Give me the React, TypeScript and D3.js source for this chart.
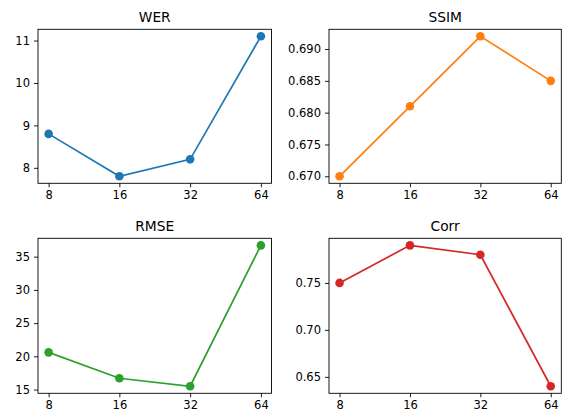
import React, { useEffect, useRef } from 'react';
import * as d3 from 'd3';

const categories = ['8', '16', '32', '64'];

const werValues = [8.8, 7.8, 8.2, 11.1];
const ssimValues = [0.67, 0.681, 0.692, 0.685];
const rmseValues = [20.6, 16.7, 15.5, 36.7];
const corrValues = [0.75, 0.79, 0.78, 0.64];

const werTicks = [8, 9, 10, 11];
const ssimTicks = [0.67, 0.675, 0.68, 0.685, 0.69];
const rmseTicks = [15, 20, 25, 30, 35];
const corrTicks = [0.65, 0.7, 0.75];

const panels = [
  { title: 'WER', values: werValues, ticks: werTicks, fmt: d3.format('d'), color: '#1f77b4', x0: 38, x1: 271.5, y0: 29.3, y1: 183.3 },
  { title: 'SSIM', values: ssimValues, ticks: ssimTicks, fmt: d3.format('.3f'), color: '#ff7f0e', x0: 329, x1: 561.3, y0: 29.3, y1: 183.3 },
  { title: 'RMSE', values: rmseValues, ticks: rmseTicks, fmt: d3.format('d'), color: '#2ca02c', x0: 38, x1: 271.5, y0: 238.3, y1: 393.3 },
  { title: 'Corr', values: corrValues, ticks: corrTicks, fmt: d3.format('.2f'), color: '#d62728', x0: 329, x1: 561.3, y0: 238.3, y1: 393.3 },
];

export default function App() {
  const svgRef = useRef<SVGSVGElement | null>(null);

  useEffect(() => {
    if (!svgRef.current) return;
    const svg = d3.select(svgRef.current);
    svg.selectAll('*').remove();

    const font = 'DejaVu Sans, sans-serif';

    panels.forEach(p => {
      const x = d3.scaleLinear().domain([-0.15, categories.length - 1 + 0.15]).range([p.x0, p.x1]);
      const [lo, hi] = d3.extent(p.values) as [number, number];
      const m = (hi - lo) * 0.05;
      const y = d3.scaleLinear().domain([lo - m, hi + m]).range([p.y1, p.y0]);

      const g = svg.append('g');

      const line = d3.line<number>()
        .x((_, i) => x(i))
        .y(d => y(d));

      g.append('path')
        .datum(p.values)
        .attr('d', line)
        .attr('fill', 'none')
        .attr('stroke', p.color)
        .attr('stroke-width', 1.7);

      g.selectAll('circle.pt')
        .data(p.values)
        .enter()
        .append('circle')
        .attr('cx', (_, i) => x(i))
        .attr('cy', d => y(d))
        .attr('r', 4.3)
        .attr('fill', p.color);

      const yAxis = d3.axisLeft(y)
        .tickValues(p.ticks)
        .tickFormat(d => p.fmt(d as number))
        .tickSize(4)
        .tickPadding(4)
        .tickSizeOuter(0);
      const ya = g.append('g').attr('transform', `translate(${p.x0},0)`).call(yAxis);

      const xAxis = d3.axisBottom(x)
        .tickValues(categories.map((_, i) => i))
        .tickFormat(d => categories[d as number])
        .tickSize(4)
        .tickPadding(4)
        .tickSizeOuter(0);
      const xa = g.append('g').attr('transform', `translate(0,${p.y1})`).call(xAxis);

      [ya, xa].forEach(a => {
        a.select('.domain').remove();
        a.selectAll('line').attr('stroke', '#000').attr('stroke-width', 0.9);
        a.selectAll('text')
          .attr('fill', '#000')
          .style('font-family', font)
          .style('font-size', '11.5px');
      });

      g.append('rect')
        .attr('x', p.x0)
        .attr('y', p.y0)
        .attr('width', p.x1 - p.x0)
        .attr('height', p.y1 - p.y0)
        .attr('fill', 'none')
        .attr('stroke', '#000')
        .attr('stroke-width', 0.9);

      g.append('text')
        .attr('x', (p.x0 + p.x1) / 2)
        .attr('y', p.y0 - 7)
        .attr('text-anchor', 'middle')
        .style('font-family', font)
        .style('font-size', '13.8px')
        .attr('fill', '#000')
        .text(p.title);
    });
  }, []);

  return (
    <svg
      ref={svgRef}
      width={566}
      height={413}
      style={{ position: 'absolute', left: 0, top: 0, background: '#fff' }}
    />
  );
}
